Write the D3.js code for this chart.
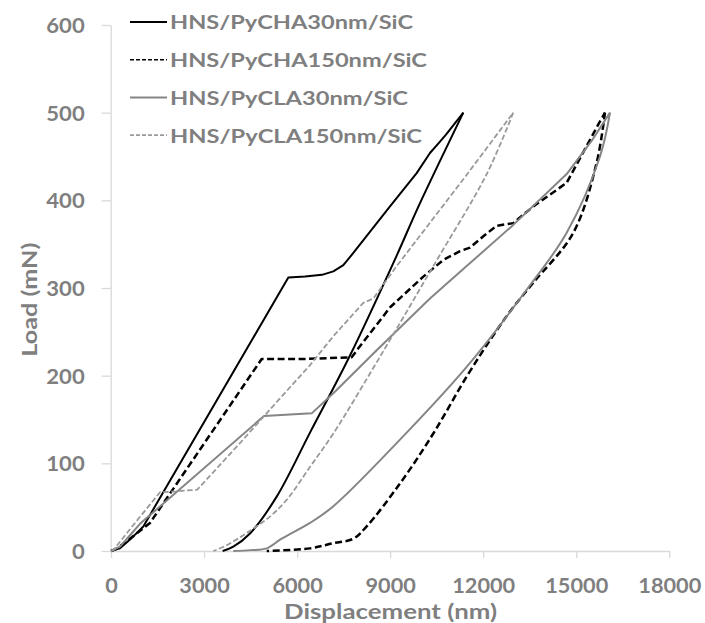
<!DOCTYPE html>
<html>
<head>
<meta charset="utf-8">
<script src="https://cdn.jsdelivr.net/npm/d3@7"></script>
<style>
  body { margin: 0; background: #fff; }
  text { font-family: Lato, "Open Sans", sans-serif; font-weight: 700; fill: #7f7f7f; }
</style>
</head>
<body>
<svg id="chart" width="705" height="623"></svg>
<script>
// ---- data ----
const xTicks = [0, 3000, 6000, 9000, 12000, 15000, 18000];
const yTicks = [0, 100, 200, 300, 400, 500, 600];
const seriesNames = ["HNS/PyCHA30nm/SiC", "HNS/PyCHA150nm/SiC", "HNS/PyCLA30nm/SiC", "HNS/PyCLA150nm/SiC"];

const cha30Load = [[0,0],[290,3],[613,13],[1042,28],[5717,312],[6255,313],[6800,315],[7168,319],[7490,326],[7813,340],[8995,393],[9855,431],[10284,454],[10607,467],[10800,475],[11359,500]];
const cha30Unload = [[11359,500],[9900,392],[9211,337],[7705,223],[6416,135],[5342,62],[4481,20],[3943,5],[3600,0]];

const cha150Load = [[0,0],[200,3],[500,11],[828,20],[1257,32],[4858,219],[6255,219],[7760,221],[7950,230],[9000,278],[10069,313],[10714,332],[11252,342],[11574,346],[12004,359],[12435,371],[12970,374],[13615,393],[14691,420],[15765,490],[15926,500]];
const cha150Unload = [[15926,500],[15658,443],[14905,363],[13615,306],[12970,278],[12325,246],[11467,199],[10391,134],[9317,77],[8243,28],[7812,14],[7168,9],[6416,3],[5020,0]];

const cla30Load = [[0,0],[290,5],[613,18],[935,31],[4933,154],[6470,157],[7168,180],[8566,229],[10284,288],[11467,325],[12970,372],[14691,430],[15500,468],[16088,500]];
const cla30Unload = [[16088,500],[15765,450],[14691,363],[13401,298],[11467,210],[9317,127],[7168,51],[6416,32],[5500,14],[5020,3],[4500,1],[3943,0]];

const cla150Load = [[0,0],[74,1],[774,32],[1580,67],[2100,68],[2783,70],[4104,121],[5395,172],[6416,212],[7168,245],[8134,283],[8457,288],[9211,325],[11359,424],[12970,500]];
const cla150Unload = [[12970,500],[12113,430],[10391,325],[8780,228],[7168,134],[6416,96],[5700,60],[5150,40],[4481,23],[3700,6],[3300,0]];

// ---- styles ----
const styles = [
  { color: "#000000", width: 2,   dash: null,      legendDash: null },
  { color: "#000000", width: 2.5, dash: "7,3.5",   legendDash: "4,2" },
  { color: "#858585", width: 2,   dash: null,      legendDash: null },
  { color: "#9a9a9a", width: 1.8, dash: "5.5,2.5", legendDash: "4,2" }
];
const seriesData = [[cha30Load, cha30Unload], [cha150Load, cha150Unload], [cla30Load, cla30Unload], [cla150Load, cla150Unload]];

const svg = d3.select("#chart");
const x = d3.scaleLinear().domain([0, 18000]).range([111, 669.3]);
const y = d3.scaleLinear().domain([0, 600]).range([551, 25]);
const axisColor = "#d9d9d9";

// x axis
const gx = svg.append("g").attr("transform", `translate(0,${y(0)})`)
  .call(d3.axisBottom(x).tickValues(xTicks).tickSize(7).tickSizeOuter(0).tickFormat(d3.format("d")));
gx.select(".domain").attr("stroke", axisColor).attr("stroke-width", 1.3);
gx.selectAll(".tick line").attr("stroke", axisColor).attr("stroke-width", 1.3);
gx.selectAll(".tick text").attr("y", 42).attr("dy", 0).style("font-size", "20px").attr("fill", "#7f7f7f")
  .attr("textLength", d => String(d).length * 12.6).attr("lengthAdjust", "spacingAndGlyphs");

// y axis
const gy = svg.append("g").attr("transform", `translate(${x(0) - 0.3},0)`)
  .call(d3.axisLeft(y).tickValues(yTicks).tickSize(9).tickSizeOuter(0).tickFormat(d3.format("d")));
gy.select(".domain").attr("stroke", axisColor).attr("stroke-width", 1.3);
gy.selectAll(".tick line").attr("stroke", axisColor).attr("stroke-width", 1.3);
gy.selectAll(".tick text").attr("x", -26).attr("dy", "0.36em").style("font-size", "21px").attr("fill", "#7f7f7f")
  .attr("textLength", d => String(d).length * 12.8).attr("lengthAdjust", "spacingAndGlyphs");

svg.selectAll("g").attr("font-family", null).attr("font-size", null);

// axis titles
svg.append("text").attr("x", 390.5).attr("y", 618.5).attr("text-anchor", "middle")
  .style("font-size", "20px").attr("textLength", 213).attr("lengthAdjust", "spacingAndGlyphs")
  .text("Displacement (nm)");
svg.append("text").attr("transform", "translate(36.5,299.7) rotate(-90)").attr("text-anchor", "middle")
  .style("font-size", "21px").attr("textLength", 114).attr("lengthAdjust", "spacingAndGlyphs")
  .text("Load (mN)");

// lines: loading branch piecewise, unloading branch smooth
const lineLoad = d3.line().x(d => x(d[0])).y(d => y(d[1])).curve(d3.curveLinear);
const lineUnload = d3.line().x(d => x(d[0])).y(d => y(d[1])).curve(d3.curveCatmullRom.alpha(0.5));
seriesData.forEach((segs, i) => {
  const s = styles[i];
  [lineLoad, lineUnload].forEach((gen, k) => {
    svg.append("path").datum(segs[k]).attr("d", gen)
      .attr("fill", "none").attr("stroke", s.color).attr("stroke-width", s.width)
      .attr("stroke-dasharray", s.dash).attr("stroke-linejoin", "round");
  });
});

// legend
const legendWidths = [243, 257, 238, 252];
seriesNames.forEach((name, i) => {
  const ly = 22 + i * 37.7;
  const s = styles[i];
  svg.append("line").attr("x1", 130).attr("x2", 167).attr("y1", ly).attr("y2", ly)
    .attr("stroke", s.color).attr("stroke-width", s.legendDash ? 1.6 : 2).attr("stroke-dasharray", s.legendDash);
  svg.append("text").attr("x", 170).attr("y", ly + 7.4).style("font-size", "19px")
    .attr("textLength", legendWidths[i]).attr("lengthAdjust", "spacingAndGlyphs").text(name);
});
</script>
</body>
</html>
